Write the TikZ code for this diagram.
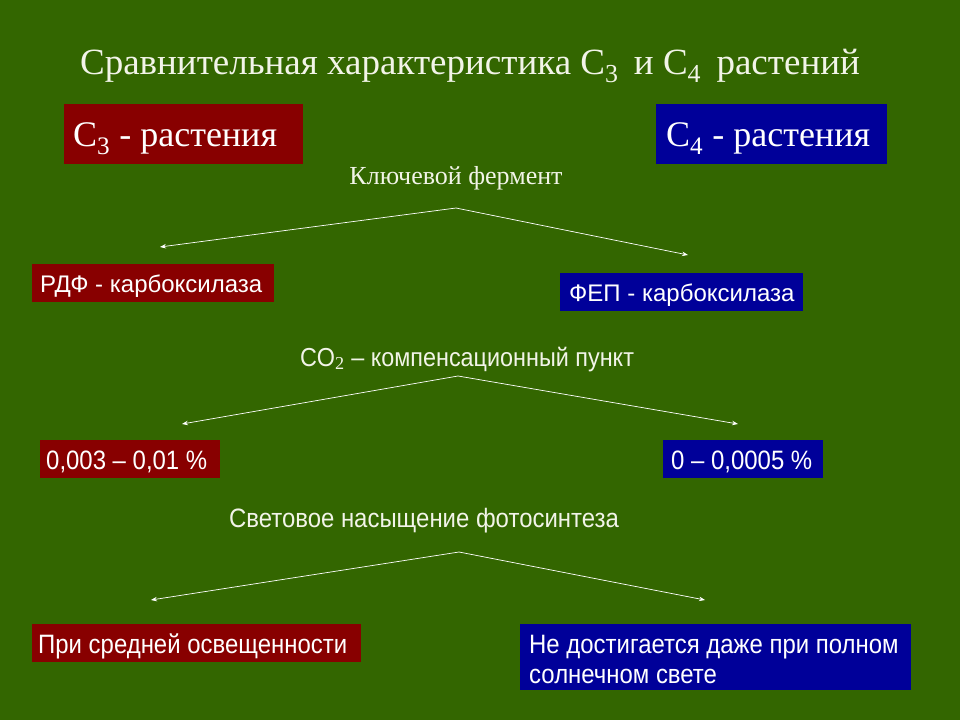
\documentclass[tikz,border=0pt]{standalone}
\usepackage{fontspec}
\setmainfont{Liberation Serif}
\setsansfont{Liberation Sans}
\newfontfamily\condsans[FakeStretch=0.9]{Liberation Sans}
\usetikzlibrary{arrows.meta}
\definecolor{bg}{HTML}{336600}
\definecolor{rbox}{HTML}{880000}
\definecolor{bbox}{HTML}{000099}
\definecolor{txt}{HTML}{F2F4E8}
\tikzset{
  boxbg/.style={inner sep=0pt, outer sep=0pt, anchor=north west},
  boxtxt/.style={anchor=base west, text=white, inner sep=0pt},
  lbl/.style={text=txt, inner sep=0pt, anchor=base},
  conn/.style={draw=white, line width=0.7pt, -{Stealth[length=6pt,width=4.5pt]}},
}
\newcommand{\sfs}{\sffamily\fontsize{24}{28}\selectfont}
\newcommand{\cfs}{\condsans\fontsize{26.6}{30}\selectfont}
\begin{document}
\begin{tikzpicture}[x=1pt,y=-1pt]
\fill[bg] (0,0) rectangle (960,720);
\useasboundingbox (0,0) rectangle (960,720);

\node[lbl] (title) at (470,74) {\fontsize{37}{42}\selectfont Сравнительная характеристика C$_{\mathrm{3}}$\, и C$_{\mathrm{4}}$\, растений};

\node[boxbg, fill=rbox, minimum width=239pt, minimum height=60pt] (c3) at (64,104) {};
\node[boxtxt] (c3t) at (73,146) {\fontsize{36}{40}\selectfont C$_{\mathrm{3}}$ - растения};
\node[boxbg, fill=bbox, minimum width=231pt, minimum height=60pt] (c4) at (656,104) {};
\node[boxtxt] (c4t) at (666,146) {\fontsize{36}{40}\selectfont C$_{\mathrm{4}}$ - растения};

\node[lbl] (k) at (456,184) {\fontsize{26}{30}\selectfont Ключевой фермент};
\coordinate (a1) at (456,208);
\coordinate (a1l) at (160,247);
\coordinate (a1r) at (688,255);
\draw[conn] (a1) -- (a1l);
\draw[conn] (a1) -- (a1r);

\node[boxbg, fill=rbox, minimum width=242pt, minimum height=38pt] (rdf) at (32,264) {};
\node[boxtxt] (rdft) at (40,292) {\sfs РДФ - карбоксилаза};
\node[boxbg, fill=bbox, minimum width=243pt, minimum height=38pt] (fep) at (560,273) {};
\node[boxtxt] (fept) at (569,301) {\sfs ФЕП - карбоксилаза};

\node[lbl] (co2) at (467,366) {\condsans\fontsize{26}{30}\selectfont CO$_{\mathrm{2}}$ – компенсационный пункт};
\coordinate (a2) at (458,376);
\coordinate (a2l) at (182,424);
\coordinate (a2r) at (738,424);
\draw[conn] (a2) -- (a2l);
\draw[conn] (a2) -- (a2r);

\node[boxbg, fill=rbox, minimum width=180pt, minimum height=38pt] (v1) at (40,440) {};
\node[boxtxt] (v1t) at (46,469) {\cfs 0,003 – 0,01 \%};
\node[boxbg, fill=bbox, minimum width=160pt, minimum height=38pt] (v2) at (663,440) {};
\node[boxtxt] (v2t) at (671,469) {\cfs 0 – 0,0005 \%};

\node[lbl] (sv) at (424,527) {\cfs Световое насыщение фотосинтеза};
\coordinate (a3) at (459,552);
\coordinate (a3l) at (151,600);
\coordinate (a3r) at (705,600);
\draw[conn] (a3) -- (a3l);
\draw[conn] (a3) -- (a3r);

\node[boxbg, fill=rbox, minimum width=329pt, minimum height=38pt] (p1) at (32,624) {};
\node[boxtxt] (p1t) at (38,653) {\cfs При средней освещенности};
\node[boxbg, fill=bbox, minimum width=391pt, minimum height=66pt] (p2) at (520,624) {};
\node[boxtxt] (p2t) at (529,653) {\cfs Не достигается даже при полном};
\node[boxtxt] (p2u) at (529,683) {\cfs солнечном свете};
\end{tikzpicture}
\end{document}
